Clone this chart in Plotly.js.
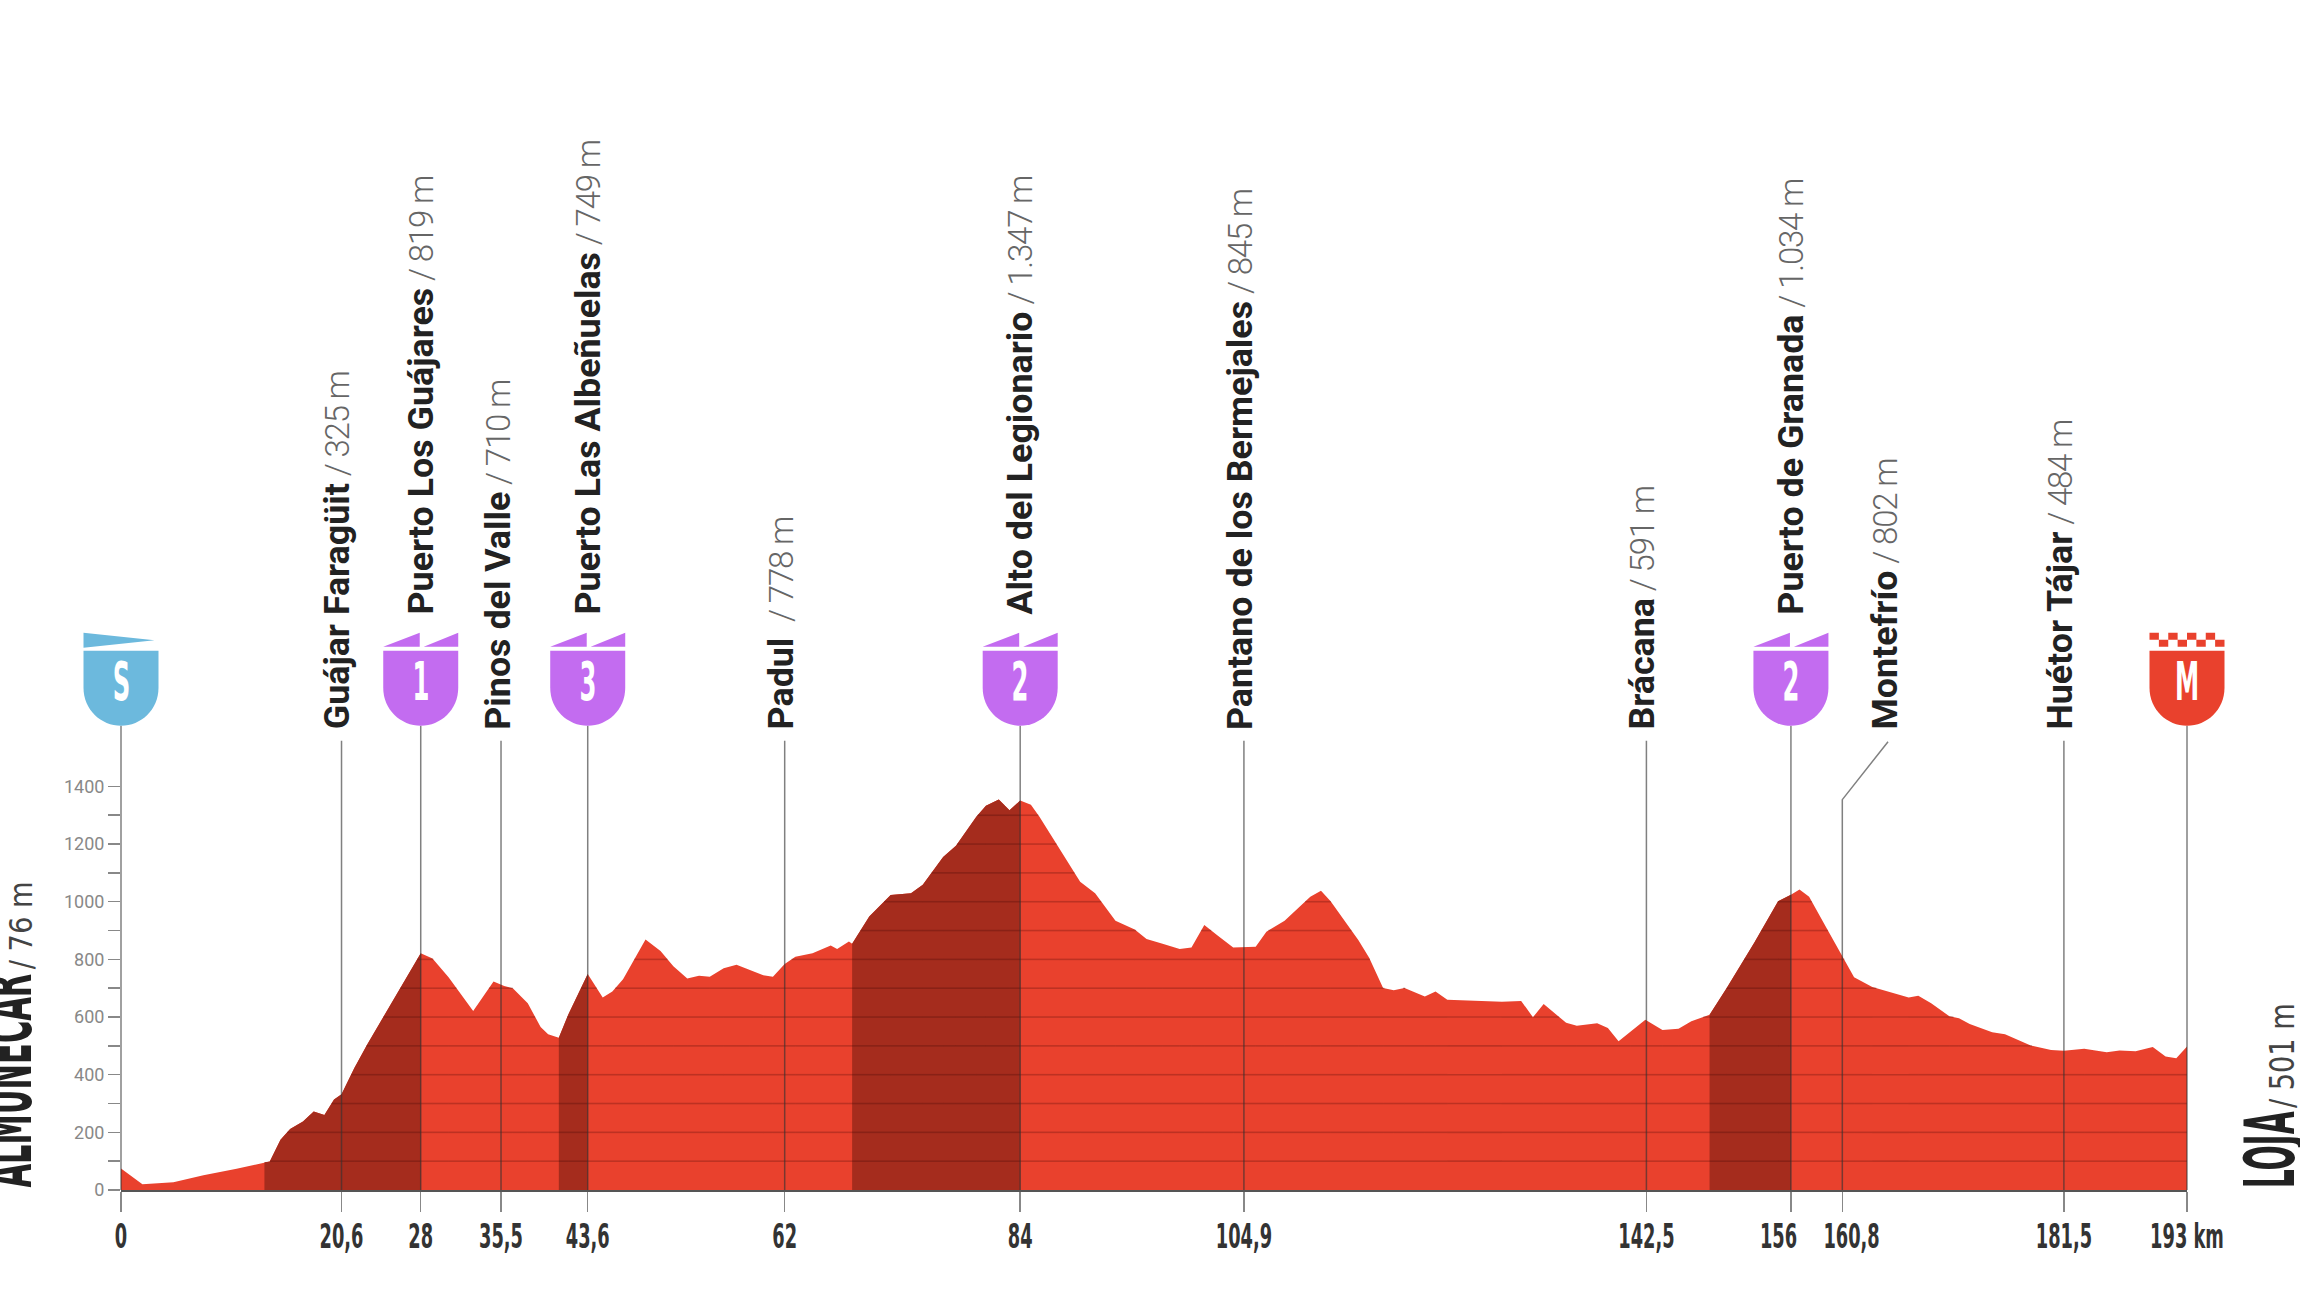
<!DOCTYPE html>
<html><head><meta charset="utf-8">
<script src="https://cdn.plot.ly/plotly-3.0.1.min.js"></script>
<style>html,body{margin:0;padding:0;background:#fff;overflow:hidden}#c{width:2300px;height:1302px}</style>
</head><body><div id="c"></div>
<script>
const kmValues=[0,2,4.9,7.7,10.8,13.4,13.9,14.9,15.8,17,18,19,19.9,20.6,21.8,23,25.4,28,29.1,30.6,32.9,34.8,35.8,36.6,38,39.2,39.9,40.9,41.8,43.6,45,45.9,46.9,49,50.4,51.6,52.9,54,55,56.3,57.5,58.7,60,60.9,62,63,64.6,66.3,66.9,68,68.3,69.9,71.9,73.8,74.9,76.8,78,79.9,80.8,82,83,84,85,85.8,87.7,89.6,91,92.9,94.7,95.8,97.3,98.9,100,101.2,102.5,103.9,106,107,108.7,111.1,112.1,113,115.6,116.6,117.9,118.9,119.9,121.8,122.8,123.9,129,130.8,131.9,132.9,135,136,137.9,138.9,139.9,141,142.4,144,145.5,146.7,148.4,150,152.6,154.8,156,156.8,157.7,159.3,160.8,161.9,163.6,167,167.9,169.1,170.8,171.7,172.7,174.8,176,178.4,180.3,181.5,183.4,185.5,186.7,188.2,189.8,191,192,193];
const elevationValues=[75,20,27,51,74,96,99,174,212,238,272,260,314,332,423,505,656,821,803,738,621,723,708,700,648,565,540,528,610,749,668,689,731,869,829,776,734,743,740,769,781,764,745,740,784,809,821,848,836,862,854,949,1023,1029,1059,1155,1194,1295,1333,1355,1317,1351,1336,1295,1182,1069,1029,934,904,871,854,836,841,919,881,841,844,896,934,1017,1038,1002,866,806,701,693,701,671,689,660,653,656,599,645,580,570,578,562,516,550,591,555,559,585,608,701,859,1002,1024,1042,1017,911,814,738,704,668,674,648,603,596,576,547,540,501,486,483,490,478,484,481,496,463,457,498];
const climbStarts=[13.4,40.9,68.3,148.4];
const climbEnds=[28,43.6,84,156];
const stopNames=["Guájar Faragüit","Puerto Los Guájares","Pinos del Valle","Puerto Las Albeñuelas","Padul ","Alto del Legionario","Pantano de los Bermejales","Brácana","Puerto de Granada","Montefrío","Huétor Tájar"];
const stopKm=[20.6,28,35.5,43.6,62,84,104.9,142.5,156,160.8,181.5];
const stopAlt=["325","819","710","749","778","1.347","845","591","1.034","802","484"];
const flagKm=[0,28,43.6,84,156,193];
const flagText=["S","1","3","2","2","M"];
const xTickVals=[0,20.6,28,35.5,43.6,62,84,104.9,142.5,156,160.8,181.5,193];
const xTickText=["0","20,6","28","35,5","43,6","62","84","104,9","142,5","156","160,8","181,5","193 km"];
const yTickVals=[0,100,200,300,400,500,600,700,800,900,1000,1100,1200,1300,1400];
const startTown="ALMUÑECAR", startAlt="/ 76 m", finishTown="LOJA", finishAlt="/ 501 m";

const RED="#e9412d",DARK="#a52c1d",PURPLE="#c36cf0",BLUE="#6cb9dd";
const COND='"DejaVu Sans Condensed","DejaVu Sans",sans-serif';
const W=2300,H=1302,L=121,R=2187,B=1190.5,PXM=0.2884;
const yTop=B/PXM, m=p=>(B-p)/PXM, fx=p=>(p-L)/(R-L);

const traces=[{x:kmValues,y:elevationValues,type:"scatter",mode:"lines",fill:"tozeroy",fillcolor:RED,line:{color:RED,width:0},hoverinfo:"skip"}];
climbStarts.forEach((a,i)=>{
  const idx=kmValues.map((k,j)=>j).filter(j=>kmValues[j]>=a&&kmValues[j]<=climbEnds[i]);
  traces.push({x:idx.map(j=>kmValues[j]),y:idx.map(j=>elevationValues[j]),type:"scatter",mode:"lines",fill:"tozeroy",fillcolor:DARK,line:{color:DARK,width:0},hoverinfo:"skip"});
});
// contour bands: each 100 m level runs only where the profile is above it
const gx=[],gy=[];
yTickVals.slice(1).forEach(lv=>{
  for(let i=0;i<kmValues.length-1;i++){
    const a=elevationValues[i],b=elevationValues[i+1],k0=kmValues[i],k1=kmValues[i+1];
    if(a<lv&&b<lv)continue;
    const s=a>=lv?k0:k0+(lv-a)/(b-a)*(k1-k0), e=b>=lv?k1:k0+(lv-a)/(b-a)*(k1-k0);
    gx.push(s,e,null);gy.push(lv,lv,null);
  }
});
traces.push({x:gx,y:gy,type:"scatter",mode:"lines",line:{color:"rgba(50,0,0,0.24)",width:1.6},hoverinfo:"skip"});

const shapes=[],annotations=[];
const PIN={color:"rgba(50,50,50,0.62)",width:1.5};
const labelShift=[-5,0,-3,0,-4,0,-4,-4,0,43,-4];
stopKm.forEach((k,i)=>{
  const flagged=flagKm.includes(k);
  if(stopNames[i]==="Montefrío"){
    shapes.push({type:"path",xref:"x",yref:"y",path:`M${k},0 L${k},${m(800)} L${k+4.27},${m(742)}`,line:PIN});
  } else {
    shapes.push({type:"line",xref:"x",yref:"y",x0:k,x1:k,y0:0,y1:flagged?m(726):m(741),line:PIN});
  }
  annotations.push({x:k,y:flagged?m(617):m(732),xref:"x",yref:"y",xshift:labelShift[i],showarrow:false,textangle:-90,yanchor:"bottom",xanchor:"center",
    text:`<b>${stopNames[i]}</b><span style="color:#666;font-weight:300;font-size:33px;letter-spacing:-1.2px"> / ${stopAlt[i]} m</span>`,
    font:{family:"Roboto",size:35.8,color:"#222"}});
});
[0,193].forEach(k=>shapes.push({type:"line",xref:"paper",yref:"y",x0:k/193,x1:k/193,y0:0,y1:m(726),line:PIN}));
const BODY="M-37.5,75 L37.5,75 L37.5,38 C37.5,16 20,0 0,0 C-20,0 -37.5,16 -37.5,38 Z";
function flagShape(k,path,col){return {type:"path",xref:"paper",yref:"y",xsizemode:"pixel",ysizemode:"pixel",xanchor:k/193,yanchor:m(726),path,fillcolor:col,line:{width:0}};}
flagKm.forEach((k,i)=>{
  const t=flagText[i],col=t==="S"?BLUE:t==="M"?RED:PURPLE;
  shapes.push(flagShape(k,BODY,col));
  if(t==="S") shapes.push(flagShape(k,"M-37.5,93 L33.5,85.5 L-37.5,78 Z",col));
  else if(t==="M"){
    let p="";const w=75/8,h=7;
    for(let c=0;c<8;c++){const x=-37.5+c*w,top=c%2===0?93:86;p+=`M${x},${top} L${x+w},${top} L${x+w},${top-h} L${x},${top-h} Z `;}
    shapes.push(flagShape(k,p,col));
  } else shapes.push(flagShape(k,"M-37.5,79 L-1,93 L-1,79 Z M3,79 L37.5,93 L37.5,79 Z",col));
  annotations.push({x:k/193,y:m(726-44),xref:"paper",yref:"y",showarrow:false,yanchor:"middle",xanchor:"center",text:`<b>${t}</b>`,font:{family:COND,size:54,color:"#fff"}});
});
// route-end labels: [text, centre x px, centre y px, font size, bold, length along the text]
const sideLabels=[[startTown,7,1081,70,true,214],[startAlt,21,926,32,false,88],[finishTown,2270,1150,70,true,77],[finishAlt,2282,1056,34,false,105]];
sideLabels.forEach(s=>annotations.push({x:fx(s[1]),y:m(s[2]),xref:"paper",yref:"y",showarrow:false,textangle:-90,xanchor:"center",yanchor:"middle",
  text:s[4]?`<b>${s[0]}</b>`:s[0],font:{family:COND,size:s[3],color:s[4]?"#222":"#444"}}));

const shown=xTickText.map(t=>t==="156"?t+"\u00a0\u00a0\u00a0\u00a0":t==="160,8"?"\u00a0\u00a0\u00a0"+t:t);
Plotly.newPlot("c",traces,{
  width:W,height:H,showlegend:false,hovermode:false,paper_bgcolor:"#fff",plot_bgcolor:"#fff",
  margin:{l:L,r:W-R,t:0,b:H-B,pad:0},
  xaxis:{range:[0,193],showgrid:false,zeroline:false,showline:true,linecolor:"#555",linewidth:1.5,tickmode:"array",tickvals:xTickVals,ticktext:shown,ticks:"outside",ticklen:20,tickwidth:1.5,tickcolor:"#888",tickangle:0,ticklabelstandoff:-3,
    tickfont:{family:COND,size:33,color:"#333",weight:700}},
  yaxis:{range:[0,yTop],showgrid:false,zeroline:false,showline:false,tickmode:"array",tickvals:yTickVals,ticktext:yTickVals.map(v=>v%200===0?String(v):""),ticks:"outside",ticklen:12,tickwidth:1.5,tickcolor:"#888",
    tickfont:{family:"Roboto",size:18,color:"#888"}},
  shapes,annotations
},{staticPlot:true,displayModeBar:false}).then(()=>{
  // condense the display type (no narrow face is installed): scale glyphs along the text
  const squeeze=(el,sx)=>{
    const x=parseFloat(el.getAttribute("x"))||0,t=el.getAttribute("transform")||"";
    el.setAttribute("transform",`${t} translate(${x},0) scale(${sx},1) translate(${-x},0)`);
  };
  document.querySelectorAll(".xtick text").forEach(e=>squeeze(e,0.6));
  document.querySelectorAll(".annotation text").forEach(e=>{
    const u=e.textContent.trim();
    if(flagText.includes(u)) squeeze(e,0.5);
    const s=sideLabels.find(a=>a[0]===u);
    if(s) squeeze(e,s[5]/e.getComputedTextLength());
  });
});
</script></body></html>
